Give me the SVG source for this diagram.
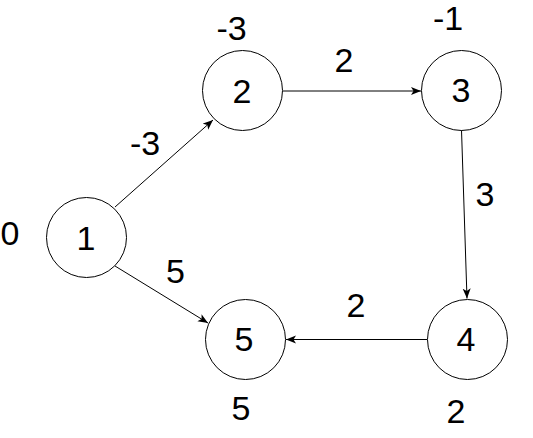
<svg xmlns="http://www.w3.org/2000/svg" width="533" height="438" viewBox="0 0 533 438">
<style>
.n{fill:#fff;stroke:#000;stroke-width:1}
.t{font-family:"Liberation Sans",Arial,sans-serif;font-size:34px;fill:#000;text-anchor:middle}
.e{stroke:#000;stroke-width:1;fill:none;marker-end:url(#a)}
</style>
<defs>
<marker id="a" markerUnits="userSpaceOnUse" markerWidth="12" markerHeight="10" refX="10" refY="4" orient="auto">
<path d="M0,0 L10,4 L0,8 L2.5,4 z" fill="#000"/>
</marker>
</defs>
<rect width="533" height="438" fill="#fff"/>
<g id="edges">
<line class="e" x1="115" y1="207" x2="213" y2="120"/>
<line class="e" x1="115" y1="266" x2="208" y2="323"/>
<line class="e" x1="283" y1="91" x2="421" y2="91"/>
<line class="e" x1="461.5" y1="130" x2="467" y2="298.5"/>
<line class="e" x1="427" y1="339.5" x2="286" y2="339.5"/>
<text class="t" x="145" y="155">-3</text>
<text class="t" x="175.5" y="283">5</text>
<text class="t" x="344" y="72">2</text>
<text class="t" x="485" y="206">3</text>
<text class="t" x="356" y="317">2</text>
</g>
<g id="node1">
<circle class="n" cx="86.5" cy="237.5" r="40"/>
<text class="t" x="86" y="250">1</text>
<text class="t" x="10" y="245">0</text>
</g>
<g id="node2">
<circle class="n" cx="242.5" cy="90.5" r="40"/>
<text class="t" x="242" y="103">2</text>
<text class="t" x="231.5" y="40">-3</text>
</g>
<g id="node3">
<circle class="n" cx="461.5" cy="90.5" r="40"/>
<text class="t" x="461" y="102">3</text>
<text class="t" x="448" y="30">-1</text>
</g>
<g id="node4">
<circle class="n" cx="467.5" cy="339.5" r="40"/>
<text class="t" x="466" y="351">4</text>
<text class="t" x="456" y="423">2</text>
</g>
<g id="node5">
<circle class="n" cx="245.5" cy="339.5" r="40"/>
<text class="t" x="244" y="351">5</text>
<text class="t" x="241" y="420">5</text>
</g>
</svg>
